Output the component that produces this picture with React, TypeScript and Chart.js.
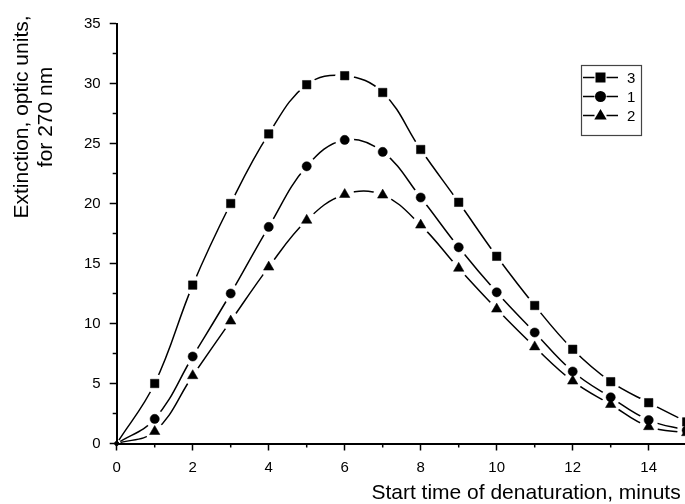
import React, { useEffect, useRef } from 'react';
import { Chart, registerables } from 'chart.js';

Chart.register(...registerables);

// ---- data ----
const xValues = [0, 1, 2, 3, 4, 5, 6, 7, 8, 9, 10, 11, 12, 13, 14, 15];
const series3 = [0, 5.0, 13.2, 20.0, 25.8, 29.9, 30.65, 29.25, 24.5, 20.1, 15.6, 11.5, 7.85, 5.15, 3.4, 1.8];
const series1 = [0, 2.05, 7.25, 12.5, 18.05, 23.1, 25.3, 24.3, 20.5, 16.35, 12.6, 9.25, 6.0, 3.85, 1.95, 1.1];
const series2 = [0, 1.0, 5.65, 10.2, 14.7, 18.6, 20.75, 20.7, 18.2, 14.6, 11.2, 8.05, 5.2, 3.25, 1.4, 0.9];
const seriesLabels = ['3', '1', '2'];
const seriesShapes = ['rect', 'circle', 'triangle'];
const xMajorTicks = [0, 2, 4, 6, 8, 10, 12, 14];
const xMinorTicks = [1, 3, 5, 7, 9, 11, 13, 15];
const yMinorTicks = [2.5, 7.5, 12.5, 17.5, 22.5, 27.5, 32.5];
const xTitle = 'Start time of denaturation, minuts';
const yTitleLines = ['Extinction, optic units,', 'for 270 nm'];

const FONT = '"Liberation Sans", Arial, Helvetica, sans-serif';
const GAP = 9.5;

const gapLinePlugin = {
  id: 'gapLines',
  beforeDatasetDraw(chart: any, args: any) {
    const { ctx, chartArea } = chart;
    const meta = args.meta;
    ctx.save();
    ctx.beginPath();
    ctx.rect(0, 0, chart.width, chart.height);
    meta.data.forEach((pt: any, i: number) => {
      const r = i === 0 ? 4 : GAP;
      ctx.moveTo(pt.x + r, pt.y);
      ctx.arc(pt.x, pt.y, r, 0, Math.PI * 2, true);
    });
    ctx.clip('evenodd');
    meta.dataset.draw(ctx, chartArea);
    ctx.restore();
    const full = { left: 0, top: 0, right: chart.width, bottom: chart.height };
    meta.data.forEach((pt: any) => pt.draw(ctx, full));
    return false;
  },
};

function drawShape(ctx: CanvasRenderingContext2D, shape: string, cx: number, cy: number) {
  ctx.beginPath();
  if (shape === 'rect') {
    ctx.rect(cx - 5, cy - 5, 10, 10);
  } else if (shape === 'circle') {
    ctx.arc(cx, cy, 5.5, 0, Math.PI * 2);
  } else {
    ctx.moveTo(cx, cy - 6.5);
    ctx.lineTo(cx + 6.2, cy + 4);
    ctx.lineTo(cx - 6.2, cy + 4);
    ctx.closePath();
  }
  ctx.fill();
}

const decorPlugin = {
  id: 'decor',
  afterDraw(chart: any) {
    const { ctx, chartArea: a, scales } = chart;
    ctx.save();
    ctx.strokeStyle = '#000';
    ctx.lineWidth = 1.5;
    xMinorTicks.forEach((v) => {
      const px = scales.x.getPixelForValue(v);
      ctx.beginPath();
      ctx.moveTo(px, a.bottom);
      ctx.lineTo(px, a.bottom + 4);
      ctx.stroke();
    });
    yMinorTicks.forEach((v) => {
      const py = scales.y.getPixelForValue(v);
      ctx.beginPath();
      ctx.moveTo(a.left, py);
      ctx.lineTo(a.left - 4, py);
      ctx.stroke();
    });

    // axis titles
    ctx.fillStyle = '#000';
    ctx.font = `21px ${FONT}`;
    ctx.textAlign = 'right';
    ctx.textBaseline = 'alphabetic';
    ctx.fillText(xTitle, a.right - 6, chart.height - 5);

    ctx.save();
    ctx.translate(0, a.top + 93.5);
    ctx.rotate(-Math.PI / 2);
    ctx.textAlign = 'center';
    ctx.fillText(yTitleLines[0], 0, 28);
    ctx.fillText(yTitleLines[1], 0, 52);
    ctx.restore();

    // legend
    const bx = 581.5, by = 65.5, bw = 60, bh = 70;
    ctx.strokeStyle = '#444';
    ctx.lineWidth = 1.2;
    ctx.strokeRect(bx, by, bw, bh);
    ctx.font = `15px ${FONT}`;
    ctx.textAlign = 'left';
    ctx.textBaseline = 'middle';
    chart.data.datasets.forEach((ds: any, i: number) => {
      const cy = by + 12 + i * 19;
      const mx = bx + 19;
      ctx.strokeStyle = '#000';
      ctx.lineWidth = 1.5;
      ctx.beginPath();
      ctx.moveTo(bx + 1.5, cy);
      ctx.lineTo(mx - 6, cy);
      ctx.moveTo(mx + 6, cy);
      ctx.lineTo(bx + 36.5, cy);
      ctx.stroke();
      ctx.fillStyle = '#000';
      drawShape(ctx, seriesShapes[i], mx, cy);
      ctx.fillText(ds.label, bx + 45.5, cy + 1);
    });
    ctx.restore();
  },
};

export default function App() {
  const ref = useRef<HTMLCanvasElement | null>(null);
  useEffect(() => {
    if (!ref.current) return;
    const allSeries = [series3, series1, series2];
    const chart = new Chart(ref.current, {
      type: 'line',
      data: {
        datasets: allSeries.map((s, k) => ({
          label: seriesLabels[k],
          data: xValues.map((x, i) => ({ x, y: s[i] })),
          borderColor: '#000',
          borderWidth: 1.5,
          backgroundColor: '#000',
          tension: 0.4,
          fill: false,
          pointStyle: (c: any) => (c.dataIndex === 0 ? 'circle' : seriesShapes[k]) as any,
          pointRadius: (c: any) => (c.dataIndex === 0 ? 2 : k === 0 ? 6 : k === 1 ? 4.6 : 6),
          pointBackgroundColor: '#000',
          pointBorderColor: '#000',
          pointBorderWidth: 0.5,
          clip: false as any,
        })),
      },
      options: {
        animation: false,
        responsive: false,
        maintainAspectRatio: false,
        layout: { padding: { left: 0, top: 23.5, right: 13.3, bottom: 0 } },
        plugins: { legend: { display: false }, tooltip: { enabled: false } },
        scales: {
          x: {
            type: 'linear',
            min: 0,
            max: 15,
            afterBuildTicks: (s: any) => {
              s.ticks = xMajorTicks.map((v) => ({ value: v }));
            },
            afterFit: (s: any) => {
              s.height = 60.5;
            },
            ticks: {
              stepSize: 2,
              autoSkip: false,
              maxRotation: 0,
              color: '#000',
              padding: 8,
              font: { family: FONT, size: 15 },
            },
            grid: { drawOnChartArea: false, drawTicks: true, tickLength: 7, tickWidth: 1.5, tickColor: '#000' },
            border: { display: true, color: '#000', width: 2 },
          },
          y: {
            type: 'linear',
            min: 0,
            max: 35,
            afterFit: (s: any) => {
              s.width = 116.7;
            },
            ticks: {
              stepSize: 5,
              color: '#000',
              padding: 9,
              font: { family: FONT, size: 15 },
            },
            grid: { drawOnChartArea: false, drawTicks: true, tickLength: 7, tickWidth: 1.5, tickColor: '#000' },
            border: { display: true, color: '#000', width: 2 },
          },
        },
      },
      plugins: [gapLinePlugin, decorPlugin],
    } as any);
    return () => chart.destroy();
  }, []);
  return (
    <div style={{ position: 'fixed', left: 0, top: 0, width: 685, height: 504, overflow: 'hidden', background: '#fff' }}>
      <canvas ref={ref} width={700} height={504} style={{ width: 700, height: 504, display: 'block' }} />
    </div>
  );
}
